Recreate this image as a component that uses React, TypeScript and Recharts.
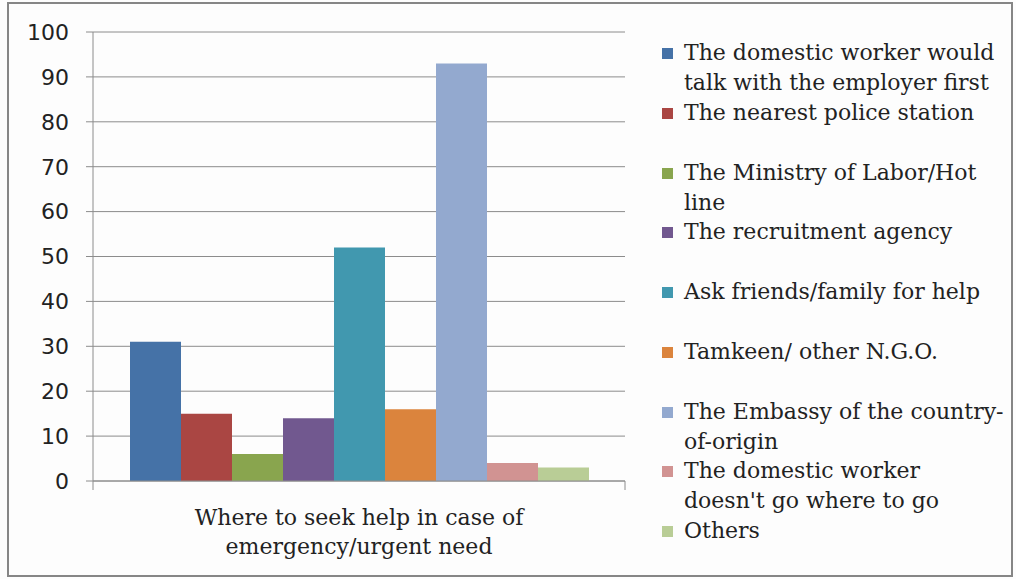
import React from 'react';
import { BarChart, Bar, XAxis, YAxis, CartesianGrid, Legend } from 'recharts';

const categories = ['Where to seek help in case of\nemergency/urgent need'];
const seriesNames = [
  'The domestic worker would\ntalk with the employer first',
  'The nearest police station',
  'The Ministry of Labor/Hot\nline',
  'The recruitment agency',
  'Ask friends/family for help',
  'Tamkeen/ other N.G.O.',
  'The Embassy of the country-\nof-origin',
  'The domestic worker\ndoesn\'t go where to go',
  'Others',
];
const seriesValues = [31, 15, 6, 14, 52, 16, 93, 4, 3];
const seriesColors = ['#4572A7', '#AA4643', '#89A54E', '#71588F', '#4198AF', '#DB843D', '#93A9CF', '#D19392', '#B9CD96'];
const yTicks = [0, 10, 20, 30, 40, 50, 60, 70, 80, 90, 100];

const data = categories.map((c) => {
  const row: Record<string, any> = { category: c };
  seriesValues.forEach((v, i) => {
    row['s' + i] = v;
  });
  return row;
});

const SERIF = '"DejaVu Serif", serif';
const SANS = '"DejaVu Sans", sans-serif';
const GRID = '#8c8c8c';

const CategoryTick = (props: any) => {
  const { x, y, payload } = props;
  const lines = String(payload.value).split('\n');
  const off = payload && typeof payload.offset === 'number' ? payload.offset : 0;
  return (
    <g>
      {off > 1 && (
        <>
          <line x1={x - off} x2={x - off} y1={y} y2={y + 9} stroke={GRID} />
          <line x1={x + off} x2={x + off} y1={y} y2={y + 9} stroke={GRID} />
        </>
      )}
      <text x={x} y={y} textAnchor="middle" fill="#222" fontFamily={SERIF} fontSize={22}>
        {lines.map((l, i) => (
          <tspan key={i} x={x} dy={i === 0 ? 44 : 29}>
            {l}
          </tspan>
        ))}
      </text>
    </g>
  );
};

const LegendContent = () => {
  return (
    <div style={{ fontFamily: SERIF, fontSize: 22, color: '#222' }}>
      {seriesNames.map((name, i) => (
        <div key={i} style={{ position: 'relative', height: 59.75 }}>
          <div
            style={{
              position: 'absolute',
              left: 0,
              top: 9,
              width: 11,
              height: 11,
              background: seriesColors[i],
            }}
          />
          <div style={{ position: 'absolute', left: 22, top: -1, lineHeight: '30px', whiteSpace: 'pre' }}>{name}</div>
        </div>
      ))}
    </div>
  );
};

export default function App() {
  return (
    <div style={{ position: 'absolute', left: 0, top: 0, width: 1016, height: 579, background: '#fdfdfd' }}>
      <div
        style={{
          position: 'absolute',
          left: 7,
          top: 2,
          width: 1006,
          height: 575,
          border: '2px solid #868686',
          boxSizing: 'border-box',
        }}
      />
      <div style={{ position: 'absolute', left: 0, top: 0 }}>
        <BarChart
          width={1016}
          height={579}
          data={data}
          margin={{ top: 32, right: 391, bottom: 38, left: 0 }}
          barCategoryGap="7.2%"
          barGap={0}
          barSize={51}
        >
          <CartesianGrid vertical={false} stroke={GRID} strokeWidth={1} />
          <XAxis
            dataKey="category"
            height={60}
            tickSize={0}
            tickMargin={0}
            tickLine={false}
            axisLine={{ stroke: GRID }}
            tick={<CategoryTick />}
            interval={0}
          />
          <YAxis
            width={93}
            domain={[0, 100]}
            ticks={yTicks}
            tickSize={7}
            tickMargin={17}
            axisLine={{ stroke: GRID }}
            tickLine={{ stroke: GRID }}
            tick={{ fill: '#222', fontFamily: SANS, fontSize: 22 }}
          />
          <Legend
            layout="vertical"
            align="center"
            verticalAlign="middle"
            wrapperStyle={{ left: 662, top: 39, width: 350, height: 540 }}
            content={<LegendContent />}
          />
          {seriesNames.map((n, i) => (
            <Bar key={i} dataKey={'s' + i} name={n} fill={seriesColors[i]} isAnimationActive={false} />
          ))}
        </BarChart>
      </div>
    </div>
  );
}
